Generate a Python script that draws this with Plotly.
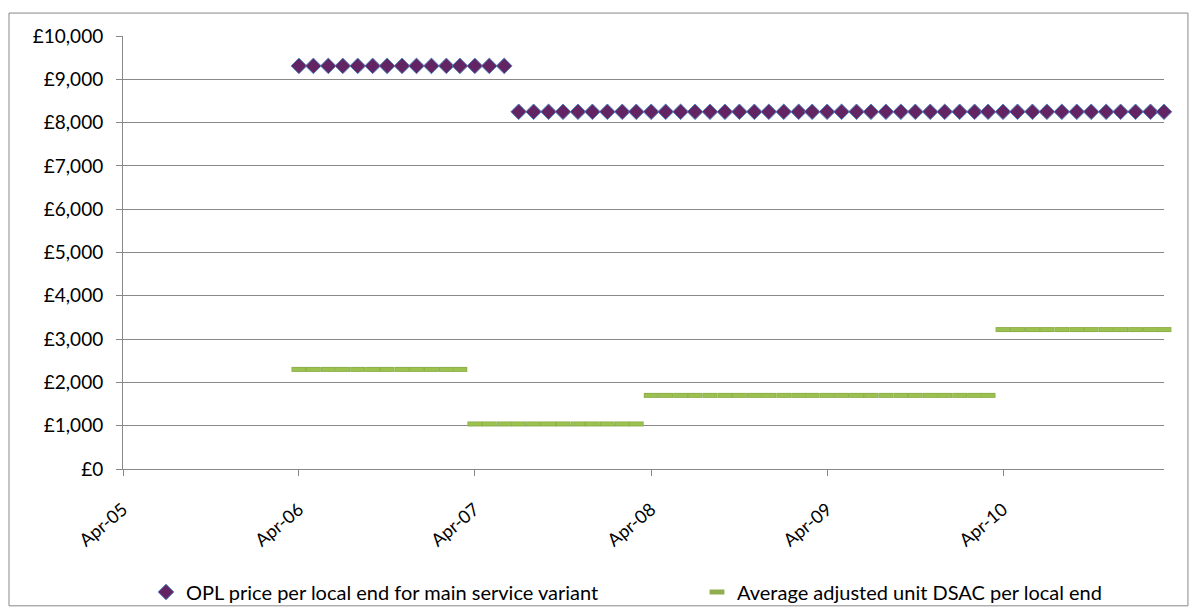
import pandas as pd
import plotly.graph_objects as go

# Monthly observation dates, April 2006 to March 2011
months = pd.date_range("2006-04-01", periods=60, freq="MS")

# OPL price per local end (GBP)
opl_price = [
    9310, 9310, 9310, 9310, 9310, 9310, 9310, 9310, 9310, 9310, 9310, 9310,
    9310, 9310, 9310, 8250, 8250, 8250, 8250, 8250, 8250, 8250, 8250, 8250,
    8250, 8250, 8250, 8250, 8250, 8250, 8250, 8250, 8250, 8250, 8250, 8250,
    8250, 8250, 8250, 8250, 8250, 8250, 8250, 8250, 8250, 8250, 8250, 8250,
    8250, 8250, 8250, 8250, 8250, 8250, 8250, 8250, 8250, 8250, 8250, 8250,
]

# Average adjusted unit DSAC per local end (GBP), one value per month
dsac = [
    2300, 2300, 2300, 2300, 2300, 2300, 2300, 2300, 2300, 2300, 2300, 2300,
    1040, 1040, 1040, 1040, 1040, 1040, 1040, 1040, 1040, 1040, 1040, 1040,
    1700, 1700, 1700, 1700, 1700, 1700, 1700, 1700, 1700, 1700, 1700, 1700,
    1700, 1700, 1700, 1700, 1700, 1700, 1700, 1700, 1700, 1700, 1700, 1700,
    3220, 3220, 3220, 3220, 3220, 3220, 3220, 3220, 3220, 3220, 3220, 3220,
]

x_range = ["2005-04-01", "2011-03-01"]
year_ticks = ["2005-04-01", "2006-04-01", "2007-04-01",
              "2008-04-01", "2009-04-01", "2010-04-01"]

GRID = "#888888"
FONT = "Lato"

fig = go.Figure()

fig.add_trace(go.Scatter(
    x=months, y=opl_price, mode="markers",
    name="OPL price per local end for main service variant",
    legend="legend",
    marker=dict(symbol="diamond", size=12, color="#632463",
                line=dict(color="#4F81BD", width=1)),
    cliponaxis=False,
))

# Dash markers: darker outline underneath, lighter fill on top
fig.add_trace(go.Scatter(
    x=months, y=dsac, mode="markers",
    name="Average adjusted unit DSAC per local end",
    legend="legend2",
    marker=dict(symbol="line-ew", size=10.6,
                line=dict(color="#8FAE4E", width=5)),
    cliponaxis=False,
))
fig.add_trace(go.Scatter(
    x=months, y=dsac, mode="markers", showlegend=False, hoverinfo="skip",
    legend="legend2",
    marker=dict(symbol="line-ew", size=9.4,
                line=dict(color="#9BC24F", width=3)),
    cliponaxis=False,
))

legend_common = dict(orientation="h", yanchor="middle", xanchor="left",
                     y=-0.284, font=dict(family=FONT, size=20),
                     bgcolor="rgba(0,0,0,0)")

fig.update_layout(
    width=1197, height=616,
    margin=dict(l=123, r=33, t=36, b=147, autoexpand=False),
    paper_bgcolor="white", plot_bgcolor="white",
    font=dict(family=FONT, size=19, color="#000000"),
    showlegend=True,
    legend=dict(x=(146 - 123) / 1041, **legend_common),
    legend2=dict(x=(697 - 123) / 1041, **legend_common),
    xaxis=dict(
        type="date", range=x_range,
        tickvals=year_ticks, tickformat="%b-%y", tickangle=-40,
        showgrid=False, zeroline=False,
        showline=True, linecolor=GRID, linewidth=1,
        ticks="outside", ticklen=6, tickcolor=GRID,
        ticklabelstandoff=16,
        tickfont=dict(family=FONT, size=18),
    ),
    yaxis=dict(
        range=[0, 10000], dtick=1000, tickprefix="£", tickformat=",",
        showgrid=True, gridcolor=GRID, gridwidth=1, zeroline=False,
        showline=True, linecolor=GRID, linewidth=1,
        ticks="outside", ticklen=6, tickcolor=GRID,
        ticklabelstandoff=9,
        tickfont=dict(family=FONT, size=19),
    ),
    shapes=[dict(type="rect", xref="paper", yref="paper",
                 x0=-0.1095, x1=1.023, y0=-0.316, y1=1.053,
                 line=dict(color=GRID, width=1), fillcolor="rgba(0,0,0,0)",
                 layer="below")],
)

fig.write_html("out.html")
